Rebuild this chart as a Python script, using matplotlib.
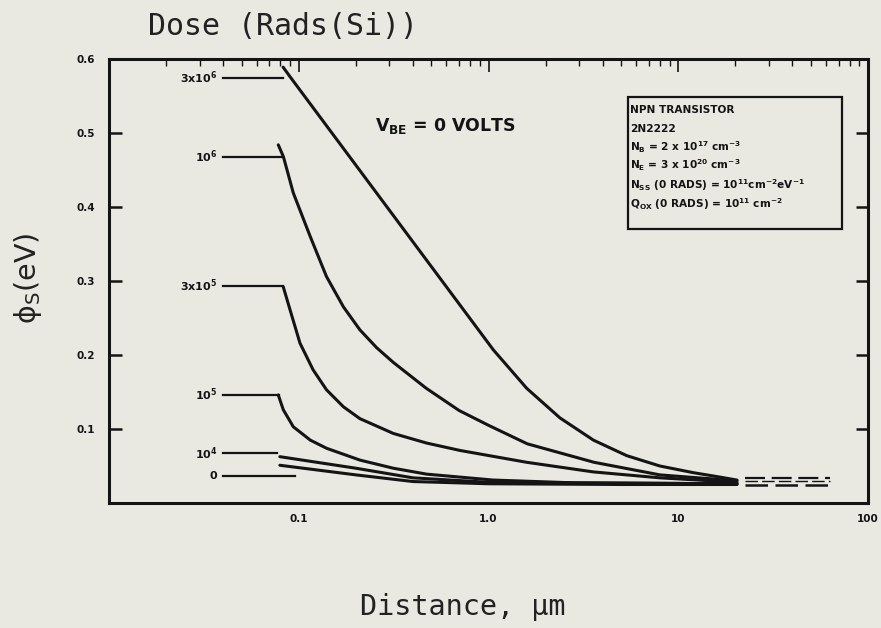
import matplotlib
matplotlib.use("Agg")
import matplotlib.pyplot as plt
from matplotlib.ticker import FixedLocator, LogLocator, NullFormatter

# ---------------- data ----------------
dose_labels = [r'3x10$^{6}$', r'10$^{6}$', r'3x10$^{5}$', r'10$^{5}$', r'10$^{4}$', '0']
leader_y = [0.575, 0.468, 0.293, 0.146, 0.067, 0.036]
leader_x0 = 0.040
leader_x1 = [0.083, 0.081, 0.083, 0.079, 0.077, 0.096]

c3e6_x = [0.0827, 0.090, 1.06, 1.59, 2.38, 3.57, 5.35, 8.0, 12.0, 16.6, 20.4]
c3e6_y = [0.589, 0.576, 0.207, 0.155, 0.115, 0.085, 0.064, 0.050, 0.041, 0.035, 0.031]

c1e6_x = [0.078, 0.083, 0.0936, 0.115, 0.140, 0.172, 0.210, 0.257, 0.315, 0.47, 0.70, 1.0, 1.6, 3.6, 8.0, 20.4]
c1e6_y = [0.484, 0.468, 0.419, 0.360, 0.306, 0.265, 0.234, 0.210, 0.190, 0.155, 0.125, 0.105, 0.080, 0.055, 0.038, 0.030]

c3e5_x = [0.0829, 0.090, 0.1015, 0.119, 0.140, 0.172, 0.210, 0.315, 0.472, 0.708, 1.59, 3.57, 8.0, 20.4]
c3e5_y = [0.292, 0.261, 0.216, 0.180, 0.153, 0.130, 0.114, 0.094, 0.081, 0.071, 0.055, 0.042, 0.034, 0.028]

c1e5_x = [0.078, 0.0829, 0.0936, 0.115, 0.140, 0.210, 0.315, 0.472, 1.06, 3.0, 20.4]
c1e5_y = [0.146, 0.126, 0.103, 0.085, 0.074, 0.058, 0.047, 0.039, 0.031, 0.027, 0.026]

c1e4_x = [0.0795, 0.2, 0.40, 1.0, 5.0, 20.4]
c1e4_y = [0.0626, 0.047, 0.034, 0.028, 0.027, 0.026]

c0_x = [0.0795, 0.2, 0.40, 1.0, 5.0, 20.4]
c0_y = [0.051, 0.038, 0.029, 0.026, 0.025, 0.025]

tail_x = [22.5, 63.0]
tail_y = [0.034, 0.030, 0.025]

xtick_vals = [0.1, 1.0, 10, 100]
xtick_labels = ['0.1', '1.0', '10', '100']
ytick_vals = [0.1, 0.2, 0.3, 0.4, 0.5, 0.6]
ytick_labels = ['0.1', '0.2', '0.3', '0.4', '0.5', '0.6']

info_lines = [
    'NPN TRANSISTOR',
    '2N2222',
    r'N$_{\mathregular{B}}$ = 2 x 10$^{17}$ cm$^{-3}$',
    r'N$_{\mathregular{E}}$ = 3 x 10$^{20}$ cm$^{-3}$',
    r'N$_{\mathregular{SS}}$ (0 RADS) = 10$^{11}$cm$^{-2}$eV$^{-1}$',
    r'Q$_{\mathregular{OX}}$ (0 RADS) = 10$^{11}$ cm$^{-2}$',
]

# ---------------- figure ----------------
bg = '#e9e9e2'
ink = '#141414'
plt.rcParams['mathtext.default'] = 'regular'
fig = plt.figure(figsize=(8.81, 6.28), dpi=100, facecolor=bg)
ax = fig.add_axes([109/881, 1-503/628, (868-109)/881, (503-59)/628], facecolor=bg)
ax.set_xscale('log')
ax.set_xlim(0.01, 100)
ax.set_ylim(0, 0.6)

curves = [(c3e6_x, c3e6_y), (c1e6_x, c1e6_y), (c3e5_x, c3e5_y),
          (c1e5_x, c1e5_y), (c1e4_x, c1e4_y), (c0_x, c0_y)]
for (cx, cy) in curves:
    ax.plot(cx, cy, color=ink, lw=2.2, solid_capstyle='round', solid_joinstyle='round')

for lab, ly, lx1 in zip(dose_labels, leader_y, leader_x1):
    ax.plot([leader_x0, lx1], [ly, ly], color=ink, lw=1.6)
    ax.text(leader_x0 * 0.93, ly, lab, ha='right', va='center', fontsize=8,
            fontweight='bold', color=ink)

for ty, lw in zip(tail_y, [1.6, 1.0, 1.8]):
    ax.plot(tail_x, [ty, ty], color=ink, lw=lw, ls=(0, (9, 3)))

# spines / ticks
for s in ax.spines.values():
    s.set_linewidth(2.2)
    s.set_color(ink)

ax.xaxis.set_major_locator(FixedLocator(xtick_vals))
ax.set_xticklabels(xtick_labels)
ax.xaxis.set_minor_locator(LogLocator(base=10, subs=range(2, 10)))
ax.xaxis.set_minor_formatter(NullFormatter())
ax.tick_params(axis='x', which='both', bottom=False, top=True, direction='in',
               labelbottom=True, labeltop=False, color=ink)
ax.tick_params(axis='x', which='major', length=9, width=1.2, pad=8,
               labelsize=7.5, labelcolor=ink)
ax.tick_params(axis='x', which='minor', length=5, width=1.0)
for t in ax.get_xticklabels():
    t.set_fontweight('bold')

ax.yaxis.set_major_locator(FixedLocator(ytick_vals))
ax.set_yticklabels(ytick_labels)
ax.tick_params(axis='y', which='major', left=True, right=True, direction='in',
               length=9, width=1.8, pad=10, labelsize=7.5, labelcolor=ink, color=ink)
for t in ax.get_yticklabels():
    t.set_fontweight('bold')

# annotation
ax.text(0.59, 0.51, r'V$_{\mathregular{BE}}$ = 0 VOLTS', fontsize=12.5, fontweight='bold',
        color=ink, ha='center', va='center')

# info box
bx0, by0, bx1, by1 = 628/881, 1-229/628, 842/881, 1-97/628
rect = plt.Rectangle((bx0, by0), bx1-bx0, by1-by0, transform=fig.transFigure,
                     fill=False, edgecolor=ink, lw=1.6)
fig.add_artist(rect)
line_py = [110, 129, 147, 165, 185, 204]
for txt, py in zip(info_lines, line_py):
    fig.text(630/881, 1-py/628, txt, fontsize=7.6, fontweight='bold', color=ink,
             ha='left', va='center')

# titles
fig.text(148/881, 1-35/628, 'Dose (Rads(Si))', fontsize=21.5, family='DejaVu Sans Mono',
         color='#222222', ha='left', va='baseline')
fig.text(360/881, 1-615/628, 'Distance, µm', fontsize=20.5, family='DejaVu Sans Mono',
         color='#222222', ha='left', va='baseline')
fig.text(28/881, 1-278/628, r'$\phi_{\mathregular{S}}$(eV)', fontsize=20.5, rotation=90,
         color='#222222', ha='center', va='center')

fig.savefig('out.png', dpi=100, facecolor=bg)
